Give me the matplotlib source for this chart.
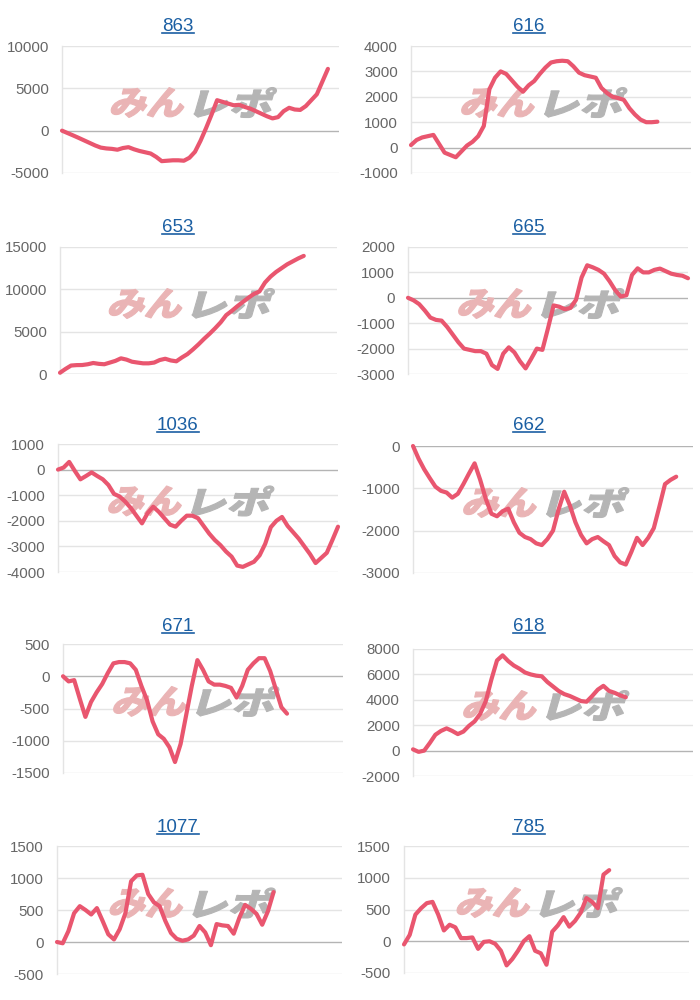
import matplotlib
matplotlib.use("Agg")
import matplotlib.pyplot as plt
import numpy as np
from matplotlib.textpath import TextPath
from matplotlib.font_manager import FontProperties
from matplotlib.patches import PathPatch
from matplotlib.transforms import Affine2D
from matplotlib.lines import Line2D

plt.rcParams["font.family"] = ["Liberation Sans", "DejaVu Sans"]

# ---------------- data ----------------
titles = ["863", "616", "653", "665", "1036", "662", "671", "618", "1077", "785"]

s863 = [0, -280, -560, -850, -1150, -1450, -1750, -2000, -2100, -2150, -2250, -2050,
        -1950, -2200, -2400, -2550, -2700, -3100, -3600, -3550, -3500, -3500, -3550,
        -3200, -2500, -1200, 300, 1900, 3600, 3400, 3200, 3000, 3050, 2800, 2600, 2300,
        2000, 1700, 1450, 1600, 2300, 2700, 2500, 2450, 2900, 3600, 4300, 5800, 7300]

s616 = [100, 300, 400, 450, 500, 150, -200, -290, -380, -150, 80, 230, 450, 850, 2300,
        2750, 3000, 2900, 2650, 2400, 2200, 2450, 2620, 2900, 3150, 3350, 3400, 3420,
        3400, 3200, 2950, 2850, 2800, 2750, 2350, 2150, 2000, 1950, 1880, 1550, 1300,
        1100, 1000, 1000, 1020]

s653 = [150, 600, 1000, 1050, 1060, 1150, 1300, 1200, 1150, 1350, 1550, 1850, 1700,
        1450, 1350, 1260, 1260, 1350, 1650, 1800, 1600, 1500, 1950, 2350, 2900, 3500,
        4150, 4750, 5400, 6100, 6950, 7450, 8000, 8500, 9000, 9450, 9750, 10800, 11500,
        12050, 12500, 12950, 13300, 13650, 13950]

s665 = [0, -100, -250, -500, -780, -870, -900, -1150, -1450, -1750, -2000, -2050, -2100,
        -2100, -2200, -2650, -2800, -2200, -1950, -2150, -2500, -2780, -2400, -2000,
        -2050, -1200, -300, -350, -450, -400, -80, 800, 1280, 1200, 1100, 950, 650, 300,
        50, 100, 900, 1160, 1000, 1000, 1100, 1150, 1050, 950, 900, 870, 770]

s1036 = [0, 80, 300, -50, -380, -250, -110, -250, -380, -600, -950, -1050, -1250, -1500,
         -1800, -2100, -1700, -1450, -1650, -1900, -2150, -2230, -2000, -1800, -1800,
         -1900, -2200, -2500, -2750, -2950, -3200, -3400, -3750, -3800, -3700, -3600,
         -3350, -2900, -2250, -2000, -1850, -2200, -2450, -2700, -3000, -3300, -3650,
         -3450, -3250, -2750, -2230]

s662 = [0, -300, -550, -760, -960, -1060, -1100, -1220, -1130, -900, -650, -410, -800,
        -1250, -1600, -1660, -1540, -1480, -1800, -2050, -2150, -2200, -2300, -2340,
        -2200, -2000, -1500, -1080, -1400, -1800, -2100, -2300, -2200, -2150, -2250,
        -2340, -2600, -2750, -2800, -2500, -2170, -2340, -2170, -1940, -1430, -900,
        -800, -725]

s671 = [0, -80, -60, -350, -630, -400, -250, -120, 50, 200, 220, 220, 200, 100, -150,
        -370, -700, -900, -970, -1100, -1330, -1050, -600, -150, 250, 100, -80, -130,
        -130, -150, -180, -330, -150, 100, 200, 280, 280, 80, -200, -480, -580]

s618 = [100, -100, 0, 600, 1250, 1550, 1750, 1550, 1300, 1500, 1950, 2300, 2900, 3900,
        5600, 7100, 7500, 7050, 6700, 6450, 6150, 6000, 5900, 5850, 5400, 5050, 4700,
        4450, 4300, 4100, 3900, 3850, 4300, 4800, 5100, 4700, 4550, 4350, 4200]

s1077 = [0, -20, 170, 450, 560, 500, 430, 530, 330, 120, 40, 200, 450, 950, 1040, 1050,
         750, 620, 560, 330, 140, 50, 20, 40, 100, 250, 150, -50, 280, 260, 250, 130,
         380, 580, 520, 440, 270, 480, 780]

s785 = [-50, 100, 420, 520, 600, 620, 420, 170, 260, 220, 50, 50, 60, -120, -10, 0, -40,
        -150, -380, -280, -150, 0, 80, -150, -190, -370, 150, 250, 380, 230, 320, 450,
        680, 620, 520, 1050, 1120]

series = [s863, s616, s653, s665, s1036, s662, s671, s618, s1077, s785]

yticks = [
    [-5000, 0, 5000, 10000],
    [-1000, 0, 1000, 2000, 3000, 4000],
    [0, 5000, 10000, 15000],
    [-3000, -2000, -1000, 0, 1000, 2000],
    [-4000, -3000, -2000, -1000, 0, 1000],
    [-3000, -2000, -1000, 0],
    [-1500, -1000, -500, 0, 500],
    [-2000, 0, 2000, 4000, 6000, 8000],
    [-500, 0, 500, 1000, 1500],
    [-500, 0, 500, 1000, 1500],
]
x_span = 50  # number of x steps across each plot

# ---------------- layout / style ----------------
W, H = 700, 1000
boxes = [  # left, right, top, bottom in pixels
    (62, 339, 46, 173), (411, 691, 46, 173),
    (60, 337, 247, 374), (408, 688, 247, 374),
    (58, 338, 444, 572), (413, 693, 446, 573),
    (63, 343, 644, 773), (413, 693, 649, 776),
    (57, 342, 846, 974), (404, 689, 846, 973),
]
title_x = [178, 529]
title_base = [31, 232, 430, 631, 832]

LINE = "#e9566f"
GRID = "#e4e4e4"
ZERO = "#b4b4b4"
TICKC = "#666666"
TITLEC = "#1b5fa3"
PINK = "#eab4b5"
GRAY = "#b5b5b5"

fig = plt.figure(figsize=(W / 100, H / 100), dpi=100)
fig.patch.set_facecolor("white")

fp_wm = FontProperties(family="Noto Sans CJK JP", weight=900)


def add_mark(ax, text, color, x0, y0, wpx, hpx):
    p = TextPath((0, 0), text, size=1, prop=fp_wm)
    ext = p.get_extents()
    tr = (Affine2D().translate(-ext.x0, -ext.y0)
          .scale(wpx / ext.width, hpx / ext.height)
          .skew_deg(16, 0)
          .translate(x0, y0))
    patch = PathPatch(p, facecolor=color, edgecolor=color, lw=0.8,
                      transform=tr, zorder=2)
    ax.add_artist(patch)


axes = []
for k, vals in enumerate(series):
    L, R, T, B = boxes[k]
    ax = fig.add_axes([L / W, 1 - B / H, (R - L) / W, (B - T) / H])
    axes.append(ax)
    x = np.arange(len(vals))
    ax.plot(x, vals, color=LINE, lw=3.0, solid_joinstyle="round",
            solid_capstyle="round", zorder=3, clip_on=False)
    tks = yticks[k]
    ax.set_xlim(0, x_span)
    ax.set_ylim(tks[0], tks[-1])
    for t in tks:
        ax.axhline(t, color=ZERO if t == 0 else GRID, lw=1.0, zorder=1)
    ax.set_yticks(tks)
    ax.set_yticklabels([str(t) for t in tks])
    ax.set_xticks([])
    ax.tick_params(axis="y", length=0, pad=9.5, labelsize=10.8, labelcolor=TICKC)
    for s in ["top", "right", "bottom"]:
        ax.spines[s].set_visible(False)
    ax.spines["left"].set_color(GRID)
    ax.spines["left"].set_linewidth(1.0)
    ax.set_facecolor("none")

    # watermark
    cx, cy = ax.transAxes.transform((0.48, 0.555))
    add_mark(ax, "みん", PINK, cx - 86, cy - 15, 72, 30)
    add_mark(ax, "レポ", GRAY, cx - 2, cy - 15, 76, 30)

# titles (underlined links)
title_texts = []
for k, t in enumerate(titles):
    col = k % 2
    row = k // 2
    tt = fig.text(title_x[col] / W, 1 - title_base[row] / H, t, ha="center",
                  va="baseline", fontsize=13.5, color=TITLEC)
    title_texts.append((tt, row))

fig.canvas.draw()
for tt, row in title_texts:
    bb = tt.get_window_extent()
    yline = H - (title_base[row] + 2)
    fig.add_artist(Line2D([bb.x0 / W, bb.x1 / W], [yline / H, yline / H],
                          transform=fig.transFigure, color=TITLEC, lw=1.2))

fig.savefig("out.png", dpi=100, facecolor="white")
